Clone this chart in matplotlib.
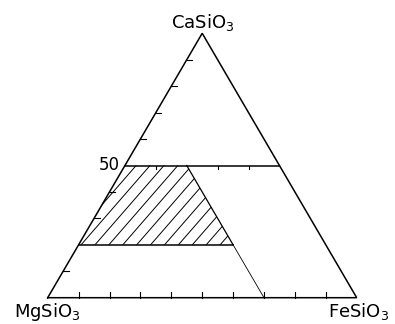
import numpy as np
import matplotlib.pyplot as plt
from matplotlib.patches import Polygon

# ternary system: CaSiO3 on top, MgSiO3 lower left, FeSiO3 lower right (mol %)
vertices = ["CaSiO$_3$", "MgSiO$_3$", "FeSiO$_3$"]
ca_isopleths = [50, 20]            # horizontal CaSiO3 lines
mg_isopleth = 30                   # MgSiO3 line bounding the field on the right
field_ca = [20, 50]                # CaSiO3 range of the hatched field
base_ticks = [10, 20, 30, 40, 50, 60, 70, 80, 90]      # FeSiO3 along base
left_ticks = [10, 30, 40, 60, 70, 80, 90]              # CaSiO3 along left side
mid_ticks = [10, 30, 40]                               # FeSiO3 along the 50 line
left_label = "50"

H = np.sqrt(3) / 2


def tern(ca, fe):
    # percentages -> cartesian, base from (0,0) to (1,0)
    ca = np.asarray(ca) / 100.0
    fe = np.asarray(fe) / 100.0
    return fe + ca / 2, ca * H


fig = plt.figure(figsize=(3.95, 3.24), dpi=100)
ax = fig.add_axes([47.7 / 395, 26.3 / 324, 309 / 395, 264.4 / 324])
ax.set_xlim(0, 1)
ax.set_ylim(0, H)
ax.axis('off')

lw = 1.1
# outer triangle
tx, ty = tern([0, 0, 100, 0], [0, 100, 0, 0])
ax.plot(tx, ty, color='black', lw=lw, clip_on=False, solid_joinstyle='miter')

# CaSiO3 = 50 line, full width
ca50 = ca_isopleths[0]
x, y = tern([ca50, ca50], [0, 100 - ca50])
ax.plot(x, y, color='black', lw=lw, clip_on=False)

# CaSiO3 = 20 line, up to the MgSiO3 = 30 line
ca20 = ca_isopleths[1]
x, y = tern([ca20, ca20], [0, 100 - ca20 - mg_isopleth])
ax.plot(x, y, color='black', lw=lw, clip_on=False)

# MgSiO3 = 30 line: heavier across the field, thin below it
x, y = tern([field_ca[1], field_ca[0]], [100 - mg_isopleth - field_ca[1], 100 - mg_isopleth - field_ca[0]])
ax.plot(x, y, color='black', lw=0.9, clip_on=False)
x, y = tern([field_ca[0], 0], [100 - mg_isopleth - field_ca[0], 100 - mg_isopleth])
ax.plot(x, y, color='black', lw=0.6, clip_on=False)

# hatched field
px, py = tern([field_ca[0], field_ca[1], field_ca[1], field_ca[0]],
              [0, 0, 100 - mg_isopleth - field_ca[1], 100 - mg_isopleth - field_ca[0]])
field = Polygon(np.column_stack([px, py]), closed=True, facecolor='none', edgecolor='none')
ax.add_patch(field)
slope = 1.164
y0 = py[0]
for x0 in np.arange(0.153 - 0.045 * 6, 0.9, 0.045):
    xs = np.array([x0 - 0.5, x0 + 0.6])
    ln, = ax.plot(xs, y0 + slope * (xs - x0), color='black', lw=0.7)
    ln.set_clip_path(field)

# ticks
for fe in base_ticks:
    x, y = tern(0, fe)
    ax.plot([x, x], [0, 0.02], color='black', lw=0.8, clip_on=False)
for ca in left_ticks:
    x, y = tern(ca, 0)
    ax.plot([x, x + 0.018], [y, y], color='black', lw=0.8, clip_on=False)
for fe in mid_ticks:
    x, y = tern(ca50, fe)
    ax.plot([x, x], [y, y - 0.012], color='black', lw=0.8, clip_on=False)

# labels
x, y = tern(100, 0)
ax.annotate(vertices[0], (x, y), xytext=(0, 3.6), textcoords='offset points',
            ha='center', va='baseline', fontsize=13)
x, y = tern(0, 0)
ax.annotate(vertices[1], (x, y), xytext=(0, -14), textcoords='offset points',
            ha='center', va='baseline', fontsize=13)
x, y = tern(0, 100)
ax.annotate(vertices[2], (x, y), xytext=(1.5, -14), textcoords='offset points',
            ha='center', va='baseline', fontsize=13)
x, y = tern(ca50, 0)
ax.annotate(left_label, (x, y), xytext=(-4, 0.5), textcoords='offset points',
            ha='right', va='center', fontsize=12)

fig.savefig('out.png', dpi=100, facecolor='white')
